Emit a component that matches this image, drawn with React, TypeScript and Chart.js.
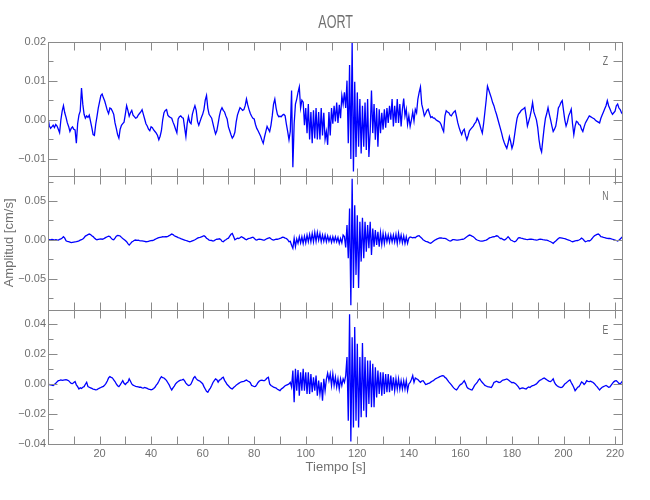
import React, { useEffect, useRef } from "react";
import { Chart, registerables } from "chart.js";

Chart.register(...registerables);

// ---------------- data ----------------
const stationName = "AORT";
const sampleStepSeconds = 0.5; // one value every 0.5 s starting at t = 0 s
const ampUnit = 1e-4; // amplitudes below are in units of 1e-4 cm/s

// vertical component (Z)
const zAmp = [
  5, -15, -22, -18, -14, -20, -12, -16, -24, -33,
  0, 22, 36, 18, 6, -8, -17, -30, -22, -18,
  -24, -26, -60, -10, 12, 22, 81, 40, 14, 4,
  10, 6, 12, -4, -20, -38, -40, -12, 8, 30,
  46, 62, 66, 56, 48, 36, 24, 16, 30, 28,
  22, 14, -8, -22, -38, -47, -24, -14, -10, -6,
  14, 36, 24, 9, 18, 24, 12, 8, 4, 6,
  12, 16, 20, 26, 14, 2, -10, -16, -24, -28,
  -18, -20, -26, -30, -34, -40, -51, -42, -28, 0,
  18, 24, 26, 12, 8, 6, 4, -6, -14, -24,
  -33, 2, 8, 10, 6, 4, -20, -43, -10, 8,
  -6, -10, 14, 26, 36, 24, -4, -14, -4, 6,
  14, 26, 50, 62, 30, 14, 9, 4, -10, -24,
  -36, -28, -10, 10, 24, 31, 24, 20, 10, 2,
  -18, -28, -38, -47, -42, -32, -6, 12, 22, 31,
  28, 24, 26, 36, 53, 38, 26, 16, 9, 4,
  2, -12, -22, -28, -35, -42, -52, -60, -44, -30,
  -17, -24, -30, -14, 10, 40, 53, 30, 14, 8,
  9, 8, 12, 14, 10, -12, -30, -51, -30, 75,
  -121, -10, 40, 53, 70, 84, 30, 50, 45, -14,
  30, -34, 40, -50, 20, -60, 24, -48, 30, -50,
  20, -50, 30, -40, 18, -50, -30, -64, 20, -40,
  30, -10, 36, -4, 44, -8, 38, 4, 62, 40,
  70, 30, 100, -60, 140, -100, 198, -132, 97, -95,
  70, -69, 53, -86, 36, -69, 44, -77, 53, -95,
  -30, 75, -34, 40, -51, 30, -69, 27, -34, 18,
  -25, 27, -20, 30, -8, 36, 0, 53, -17, 36,
  -8, 53, -8, 40, -17, 27, 54, 10, 27, -12,
  10, -17, 0, 20, -3, 27, 18, 53, 70, 84,
  40, 26, 10, 16, 24, 27, 16, 6, 8, 4,
  4, 0, -2, -4, -6, -12, -22, -30, 10, 23,
  20, 18, 12, 10, 16, 20, 23, 8, -8, -20,
  -30, -38, -28, -24, -40, -51, -40, -28, -24, -20,
  -16, -10, -6, 4, -2, -12, -24, -34, -10, 20,
  50, 86, 76, 66, 56, 44, 36, 24, 14, 2,
  -10, -22, -34, -48, -58, -66, -73, -60, -43, -56,
  -73, -62, -40, -16, 4, 14, 18, 23, 26, 28,
  31, 10, -16, -4, 8, 24, 44, 20, 10, 0,
  -20, -51, -72, -82, -50, -20, 4, 16, 31, 14,
  0, -16, -30, -24, -16, 4, 30, 36, 44, 49,
  24, 0, -16, -6, 10, 18, 27, -10, -38, -16,
  -4, -6, -12, -14, -24, -30, -18, -8, -2, 4,
  10, 8, 6, 4, 2, -2, -4, -6, -8, 4,
  12, 20, 28, 36, 49, 36, 28, 20, 14, 18,
  22, 36, 40, 30, 26, 18, 14,
];

// north component (N)
const nAmp = [
  -4, 0, -2, 4, 0, -4, 2, -2, -4, 4,
  10, 22, 38, 20, -13, -20, -26, -32, -38, -34,
  -30, -28, -26, -20, -14, -6, 0, 10, 26, 47,
  56, 66, 73, 66, 51, 40, 22, 8, 0, 4,
  8, 10, 6, 10, 20, 30, 38, 45, 40, 20,
  4, 0, 20, 45, 56, 52, 48, 30, 16, 4,
  -10, -26, -50, -68, -50, -30, -20, -8, -4, -8,
  -6, -12, -16, -14, -18, -22, -26, -24, -20, -16,
  -12, -10, -4, 4, 12, 20, 26, 30, 34, 38,
  36, 40, 38, 44, 52, 62, 73, 66, 51, 44,
  36, 28, 22, 14, 8, 2, -4, -10, -16, -22,
  -26, -22, -14, -8, 0, 10, 20, 28, 30, 36,
  44, 51, 40, 20, 8, -4, -8, -10, -17, -12,
  0, 6, 8, 12, 4, -20, -26, -10, 0, 12,
  20, 45, 70, 81, 40, 0, 10, 20, 16, 26,
  38, 30, 20, 8, 0, 10, 16, 20, 28, 32,
  20, 0, -4, 4, 8, 4, 0, -4, -4, 6,
  14, 20, 26, 12, 0, -4, 2, 8, 6, 10,
  16, 24, 34, 30, 20, 16, 0, -26, -20, -70,
  -111, 17, -90, 10, -47, 38, -40, 38, -47, 45,
  -40, 60, -26, 68, -26, 80, -26, 94, -20, 94,
  -4, 80, -26, 60, -20, 60, -26, 50, -20, 38,
  -34, 38, -26, 38, -26, 30, -47, 17, -40, 60,
  40, -100, 188, -239, 401, -845, 786, -623, 444, -453,
  316, -623, 230, -282, 282, -239, 230, -154, 188, -111,
  230, -196, 145, -90, 124, -68, 102, -90, 90, -60,
  81, -47, 68, -26, 60, -30, 60, -26, 60, -30,
  68, -47, 81, -26, 60, -40, 50, -47, 38, -47,
  20, 36, 30, 24, 30, 26, 40, 50, 51, 34,
  20, 0, -10, -20, -24, -32, -40, -47, -34, -20,
  -6, 2, 10, 16, 22, 24, 20, 18, 16, 12,
  0, -10, -18, -12, 0, 2, -2, -6, -4, -2,
  0, 4, 6, 12, 26, 38, 50, 60, 56, 46,
  38, 24, 6, -4, -10, -16, -17, -18, -14, -10,
  -4, 4, 18, 26, 30, 36, 38, 44, 51, 46,
  30, 16, 16, 4, -4, 4, 20, 38, 20, -4,
  -10, -20, -26, -20, 0, 24, 26, 20, 16, 12,
  8, 4, 2, 4, 6, 8, 4, 0, -2, -4,
  -2, 4, 8, 4, 0, -2, -4, -6, -10, -20,
  -26, -36, -47, -30, -16, 0, 16, 26, 24, 20,
  16, 14, 8, 0, -4, -10, -20, -26, -20, -14,
  -12, -10, -4, 6, 20, 10, -10, -26, -20, -12,
  -16, -8, 12, 34, 50, 60, 68, 73, 60, 40,
  36, 30, 26, 22, 18, 16, 16, 12, 6, 0,
  -4, -10, -16, -8, 10, 26, 40,
];

// east component (E)
const eAmp = [
  0, -4, -6, -8, -11, -4, 4, 14, 22, 24,
  27, 24, 26, 28, 29, 26, 22, 12, 4, 2,
  10, 16, -6, -18, -34, -26, -30, -22, -18, -2,
  11, -18, -22, -26, -30, -34, -36, -40, -38, -32,
  -28, -24, -20, -16, -8, 4, 20, 40, 49, 44,
  40, 28, 16, 0, -12, -18, -6, 8, 22, 4,
  -4, 6, 12, 34, 18, 0, -8, -12, -16, -18,
  -20, -22, -22, -26, -28, -24, -26, -30, -34, -36,
  -40, -36, -30, -22, -8, 2, 18, 36, 49, 42,
  40, 32, 22, 8, -6, -26, -40, -26, -14, 0,
  10, 16, 22, 26, 28, 31, 20, 6, -4, -10,
  -8, 0, 20, 40, 49, 36, 26, 22, 18, 10,
  2, -18, -34, -50, -56, -40, -28, -10, 10, 22,
  34, 28, 12, 26, 30, 40, 45, 24, 10, -4,
  -12, -22, -30, -34, -24, -18, -8, -2, 4, 10,
  14, 16, 18, 22, 26, 20, 16, 8, -10, -14,
  -18, -16, -4, 10, 20, 24, 26, 22, 22, 30,
  40, 45, 0, -10, -16, -22, -24, -28, -36, -40,
  -45, -34, -28, -20, -12, -8, -4, 0, 11, -20,
  90, -123, 101, -45, 94, -79, 79, -45, 101, -45,
  79, -67, 79, -67, 67, -56, 45, -45, 56, -79,
  22, -67, 11, -112, 34, -45, 30, 72, 22, 67,
  -11, 67, -11, 45, -22, 34, -34, 34, -11, 34,
  11, 56, 180, -247, 467, -386, 314, -292, 382, -247,
  269, -292, 180, -224, 274, -180, 180, -224, 157, -135,
  157, -157, 135, -157, 112, -90, 90, -67, 79, -79,
  79, -67, 67, -56, 67, -56, 56, -45, 45, -45,
  34, -34, 34, -34, 22, -34, 22, -34, 22, -45,
  0, 10, 30, 56, 11, 40, 34, 30, 20, 11,
  20, 22, 10, -4, -2, 4, 6, 12, 18, 22,
  30, 36, 40, 44, 49, 52, 56, 54, 44, 38,
  26, 14, 4, -6, -18, -28, -36, -40, -28, -14,
  -4, 0, 10, 22, 4, -20, -30, -34, -38, -40,
  -26, -10, 0, 10, 26, 34, 20, 10, 0, -10,
  -14, -18, -20, -22, -24, -10, 10, 14, 18, 14,
  10, 12, 20, 26, 28, 30, 34, 28, 22, 14,
  8, 10, 6, 0, -10, -20, -34, -30, -26, -28,
  -32, -34, -26, -20, -24, -16, -12, -10, -4, 0,
  10, 20, 26, 30, 36, 40, 34, 28, 22, 18,
  16, 24, 34, 10, -4, -12, -18, -22, -24, -22,
  -12, 0, 6, 14, 22, 27, 10, -6, -24, -45,
  -34, -22, -18, -4, 14, 8, -4, 6, 22, 18,
  16, 18, 14, 10, 2, -10, -18, -30, -40, -30,
  -22, -18, -14, -10, -16, -22, -20, -8, 4, 14,
  20, 22, 14, 4, 0, 10, 22,
];

const componentLabels = ["Z", "N", "E"];

// axis ranges (cm/s) and tick values
const timeRange = [0, 223.2];
const zRange = [-0.0143, 0.02];
const nRange = [-0.0906, 0.0824];
const eRange = [-0.0405, 0.0496];

const timeTickLabels = [20, 40, 60, 80, 100, 120, 140, 160, 180, 200, 220];
const timeMinorTicks = [10, 30, 50, 70, 90, 110, 130, 150, 170, 190, 210];
const zTickLabels = [-0.01, 0, 0.01, 0.02];
const zMinorTicks = [-0.005, 0.005, 0.015];
const nTickLabels = [-0.05, 0, 0.05];
const nMinorTicks = [-0.075, -0.025, 0.025, 0.075];
const eTickLabels = [-0.04, -0.02, 0, 0.02, 0.04];
const eMinorTicks = [-0.03, -0.01, 0.01, 0.03];

const xTitle = "Tiempo [s]";
const yTitle = "Amplitud [cm/s]";

// ---------------- styles ----------------
const FONT = "'Liberation Sans', Arial, sans-serif";
const TEXT = "#707070";
const AXIS = "#8a8a8a";
const TRACE = "#0000ff";

function fmt(v: number): string {
  if (Math.abs(v) < 1e-12) return "0.00";
  return (v < 0 ? "\u2212" : "") + Math.abs(v).toFixed(2);
}

function toPoints(amps: number[]) {
  return amps.map((a, i) => ({ x: i * sampleStepSeconds, y: a * ampUnit }));
}

const panels = [
  { id: "yZ", label: componentLabels[0], major: zTickLabels, minor: zMinorTicks },
  { id: "yN", label: componentLabels[1], major: nTickLabels, minor: nMinorTicks },
  { id: "yE", label: componentLabels[2], major: eTickLabels, minor: eMinorTicks },
];

// draws narrow (condensed) text, similar to the stroke font of the original
function narrowText(
  ctx: CanvasRenderingContext2D,
  text: string,
  x: number,
  y: number,
  size: number,
  squeeze: number
) {
  ctx.save();
  ctx.translate(x, y);
  ctx.scale(squeeze, 1);
  ctx.fillStyle = TEXT;
  ctx.font = `${size}px ${FONT}`;
  ctx.textAlign = "center";
  ctx.textBaseline = "middle";
  ctx.fillText(text, 0, 0);
  ctx.restore();
}

const framePlugin = {
  id: "seismoFrame",
  afterDatasetsDraw(chart: any) {
    const ctx = chart.ctx as CanvasRenderingContext2D;
    const xs = chart.scales.x;
    const left = Math.round(chart.chartArea.left) + 0.5;
    const right = Math.round(chart.chartArea.right) - 0.5;
    ctx.save();
    ctx.strokeStyle = AXIS;
    ctx.lineWidth = 1;
    const line = (x1: number, y1: number, x2: number, y2: number) => {
      ctx.beginPath();
      ctx.moveTo(x1, y1);
      ctx.lineTo(x2, y2);
      ctx.stroke();
    };
    panels.forEach((p) => {
      const s = chart.scales[p.id];
      const top = Math.round(s.top) + 0.5;
      const bottom = Math.round(s.bottom) + 0.5;
      ctx.strokeRect(left, top, right - left, bottom - top);
      [...timeTickLabels, ...timeMinorTicks].forEach((v) => {
        const px = Math.round(xs.getPixelForValue(v)) + 0.5;
        line(px, top, px, top + 8);
        line(px, bottom, px, bottom - 8);
      });
      p.major.forEach((v) => {
        const py = Math.round(s.getPixelForValue(v)) + 0.5;
        line(left, py, left + 9, py);
        line(right, py, right - 9, py);
      });
      p.minor.forEach((v) => {
        const py = Math.round(s.getPixelForValue(v)) + 0.5;
        line(left, py, left + 5, py);
        line(right, py, right - 9, py);
      });
      narrowText(ctx, p.label, right - 17, s.top + 20.5, 12.5, 0.7);
    });
    // station title, centred over the plot area
    narrowText(ctx, stationName, (chart.chartArea.left + chart.chartArea.right) / 2, 23, 19, 0.66);
    ctx.restore();
  },
};

function yScale(range: number[], ticks: number[], title?: string) {
  return {
    type: "linear",
    position: "left",
    stack: "components",
    stackWeight: 1,
    min: range[0],
    max: range[1],
    afterBuildTicks: (s: any) => {
      s.ticks = ticks.map((v) => ({ value: v }));
    },
    afterFit: (s: any) => {
      s.width = 48;
    },
    ticks: {
      autoSkip: false,
      padding: 2,
      color: TEXT,
      font: { family: FONT, size: 11 },
      callback: (v: any) => fmt(Number(v)),
    },
    grid: { display: false, drawTicks: false },
    border: { display: false },
    title: title
      ? {
          display: true,
          text: title,
          color: TEXT,
          font: { family: FONT, size: 13 },
          padding: { top: 2, bottom: 0 },
        }
      : { display: false },
  };
}

export default function App() {
  const canvasRef = useRef<HTMLCanvasElement | null>(null);

  useEffect(() => {
    const canvas = canvasRef.current;
    if (!canvas) return;
    const mk = (amps: number[], axis: string) => ({
      data: toPoints(amps),
      yAxisID: axis,
      xAxisID: "x",
      borderColor: TRACE,
      borderWidth: 1.3,
      pointRadius: 0,
      tension: 0,
      fill: false,
    });
    const chart = new Chart(canvas, {
      type: "line",
      data: {
        datasets: [mk(zAmp, "yZ"), mk(nAmp, "yN"), mk(eAmp, "yE")],
      },
      options: {
        animation: false,
        responsive: false,
        events: [],
        layout: { padding: { left: 0, right: 26.7, top: 41.5, bottom: 0 } },
        plugins: {
          legend: { display: false },
          tooltip: { enabled: false },
          title: { display: false },
        },
        scales: {
          x: {
            type: "linear",
            position: "bottom",
            min: timeRange[0],
            max: timeRange[1],
            afterBuildTicks: (s: any) => {
              s.ticks = timeTickLabels.map((v) => ({ value: v }));
            },
            afterFit: (s: any) => {
              s.height = 55.7;
            },
            ticks: {
              autoSkip: false,
              maxRotation: 0,
              padding: 3,
              color: TEXT,
              font: { family: FONT, size: 11 },
              callback: (v: any) => String(v),
            },
            grid: { display: false, drawTicks: false },
            border: { display: false },
            title: {
              display: true,
              text: xTitle,
              color: TEXT,
              font: { family: FONT, size: 13 },
              padding: { top: 0, bottom: 25 },
            },
          },
          yE: yScale(eRange, eTickLabels),
          yN: yScale(nRange, nTickLabels, yTitle),
          yZ: yScale(zRange, zTickLabels),
        },
      } as any,
      plugins: [framePlugin],
    } as any);
    return () => chart.destroy();
  }, []);

  return (
    <div style={{ position: "absolute", left: 0, top: 0, width: 650, height: 500, background: "#fff" }}>
      <canvas ref={canvasRef} width={650} height={500} />
    </div>
  );
}
